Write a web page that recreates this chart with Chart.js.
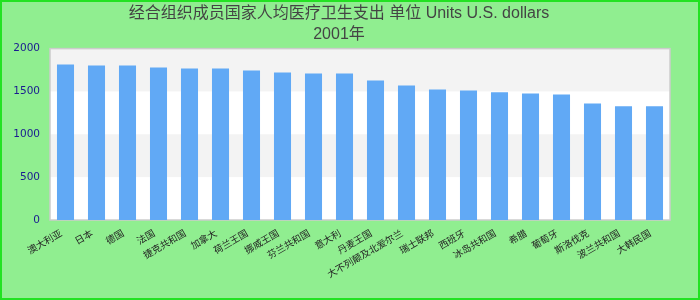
<!DOCTYPE html>
<html>
<head>
<meta charset="utf-8">
<script src="https://cdn.jsdelivr.net/npm/chart.js@4"></script>
<style>
  html, body { margin: 0; padding: 0; background: #90ee90; }
  #wrap { width: 700px; height: 300px; }
</style>
</head>
<body>
<div id="wrap"><canvas id="chart"></canvas></div>
<script>
const titleLines = ["经合组织成员国家人均医疗卫生支出 单位 Units U.S. dollars", "2001年"];
const countries = ["澳大利亚", "日本", "德国", "法国", "捷克共和国", "加拿大", "荷兰王国", "挪威王国",
  "芬兰共和国", "意大利", "丹麦王国", "大不列颠及北爱尔兰", "瑞士联邦", "西班牙", "冰岛共和国",
  "希腊", "葡萄牙", "斯洛伐克", "波兰共和国", "大韩民国"];
const amounts = [1814, 1802, 1802, 1779, 1767, 1767, 1744, 1721, 1709, 1709,
  1628, 1570, 1523, 1512, 1490, 1477, 1465, 1360, 1326, 1326];
const yTicks = [0, 500, 1000, 1500, 2000];
const bands = [[1500, 2000], [500, 1000]];

const cjkFont = "'Liberation Sans', Arial, 'Noto Sans CJK SC', sans-serif";

// green page background and outer border
const backdrop = {
  id: "backdrop",
  beforeDraw(chart) {
    const { ctx, width, height } = chart;
    ctx.save();
    ctx.fillStyle = "#90ee90";
    ctx.fillRect(0, 0, width, height);
    ctx.strokeStyle = "#22e222";
    ctx.lineWidth = 2;
    ctx.strokeRect(1, 1, width - 2, height - 2);
    ctx.restore();
  }
};

// alternating bands + plot border
const plotBands = {
  id: "plotBands",
  beforeDatasetsDraw(chart) {
    const { ctx, chartArea: a, scales } = chart;
    ctx.save();
    ctx.fillStyle = "#ffffff";
    ctx.fillRect(a.left, a.top, a.width, a.height);
    ctx.fillStyle = "#f3f3f3";
    bands.forEach(b => {
      const y1 = scales.y.getPixelForValue(b[1]);
      const y0 = scales.y.getPixelForValue(b[0]);
      ctx.fillRect(a.left, y1, a.width, y0 - y1);
    });
    ctx.strokeStyle = "#cccccc";
    ctx.lineWidth = 1.5;
    ctx.strokeRect(a.left, a.top, a.width, a.height);
    ctx.restore();
  }
};

new Chart(document.getElementById("chart"), {
  type: "bar",
  data: {
    labels: countries,
    datasets: [{
      data: amounts,
      backgroundColor: "#61a9f5",
      barPercentage: 0.55,
      categoryPercentage: 1.0
    }]
  },
  plugins: [backdrop, plotBands],
  options: {
    responsive: true,
    maintainAspectRatio: false,
    animation: false,
    layout: { padding: { left: 8, right: 30, top: 0, bottom: 0 } },
    plugins: {
      legend: { display: false },
      tooltip: { enabled: false },
      title: {
        display: true,
        text: titleLines,
        color: "#444444",
        font: { family: cjkFont, size: 16, weight: "normal", lineHeight: 1.3 },
        padding: { top: 3, bottom: 4 }
      }
    },
    scales: {
      y: {
        min: 0,
        max: 2000,
        afterBuildTicks(scale) {
          scale.ticks = yTicks.map(v => ({ value: v }));
        },
        afterFit(scale) { scale.width = 42; },
        grid: { display: false, drawTicks: false },
        border: { display: false },
        ticks: {
          color: "#1a1a90",
          padding: 10,
          callback: v => String(v),
          font: { family: "'DejaVu Sans', sans-serif", size: 10.5 }
        }
      },
      x: {
        afterFit(scale) { scale.height = 80; },
        grid: { display: false, drawTicks: false },
        border: { display: false },
        ticks: {
          autoSkip: false,
          maxRotation: 30,
          minRotation: 30,
          padding: 8,
          labelOffset: -4,
          color: "#222222",
          font: { family: cjkFont, size: 9.5 }
        }
      }
    }
  }
});
</script>
</body>
</html>
